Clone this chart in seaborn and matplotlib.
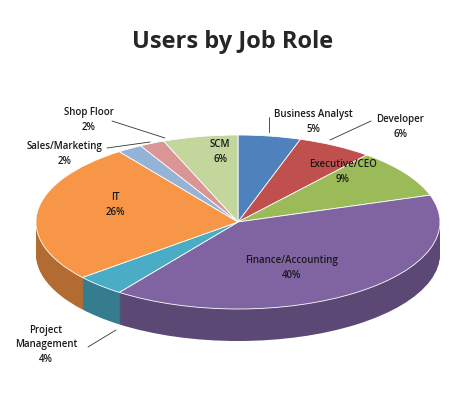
import matplotlib
matplotlib.use("Agg")
import matplotlib.pyplot as plt
import seaborn as sns
import numpy as np
from matplotlib.patches import Wedge
from matplotlib.transforms import Affine2D
import matplotlib.colors as mc

categories = ["Business Analyst", "Developer", "Executive/CEO", "Finance/Accounting",
              "Project\nManagement", "IT", "Sales/Marketing", "Shop Floor", "SCM"]
values = [5, 6, 9, 40, 4, 26, 2, 2, 6]
colors = ["#4F81BD", "#C0504D", "#9BBB59", "#8064A2", "#4BACC6", "#F79646",
          "#95B3D7", "#D99694", "#C3D69B"]

sns.set_theme(style="white")
plt.rcParams['font.family'] = ['Open Sans', 'DejaVu Sans']

fig = plt.figure(figsize=(4.67, 4.07), dpi=100)
ax = fig.add_axes([0, 0, 1, 1])
ax.set_xlim(0, 467); ax.set_ylim(0, 407); ax.axis("off")

cx, cy, rx, ry, depth = 238, 185, 202, 87, 32
total = sum(values)
angles = []
a = 90.0
for v in values:
    a2 = a - 360 * v / total
    angles.append((a2, a))
    a = a2

def dark(c, f=0.72):
    r, g, b = mc.to_rgb(c)
    return (r * f, g * f, b * f)

for d in np.arange(depth, 0, -1):
    for (t1, t2), c in zip(angles, colors):
        tr = Affine2D().scale(rx, ry).translate(cx, cy - d) + ax.transData
        ax.add_patch(Wedge((0, 0), 1, t1, t2, facecolor=dark(c), edgecolor="none", transform=tr))
for (t1, t2), c in zip(angles, colors):
    tr = Affine2D().scale(rx, ry).translate(cx, cy) + ax.transData
    ax.add_patch(Wedge((0, 0), 1, t1, t2, facecolor=c, edgecolor="white", linewidth=0.6, transform=tr))

ax.text(233, 365, "Users by Job Role", ha="center", va="center", fontsize=17, fontweight="bold")

# label positions (pixel coordinates, y from top)
label_pos = [(313, 122), (400, 127), (343, 172), (292, 268), (46, 345), (115, 205),
             (65, 154), (89, 120), (220, 152)]
leaders = {0: ((269, 117), (269, 132)), 1: ((371, 121), (330, 140)),
           4: ((88, 347), (116, 330)), 6: ((107, 148), (150, 142)),
           7: ((112, 121), (165, 138))}
for i, (lab, v) in enumerate(zip(categories, values)):
    x, y = label_pos[i]
    ax.text(x, 407 - y, f"{lab}\n{v}%", ha="center", va="center", fontsize=7,
            fontweight="semibold", color="#1a1a1a", linespacing=1.5)
    if i in leaders:
        (x1, y1), (x2, y2) = leaders[i]
        ax.plot([x1, x2], [407 - y1, 407 - y2], color="#333333", lw=0.6)

fig.savefig("out.png", dpi=100)
